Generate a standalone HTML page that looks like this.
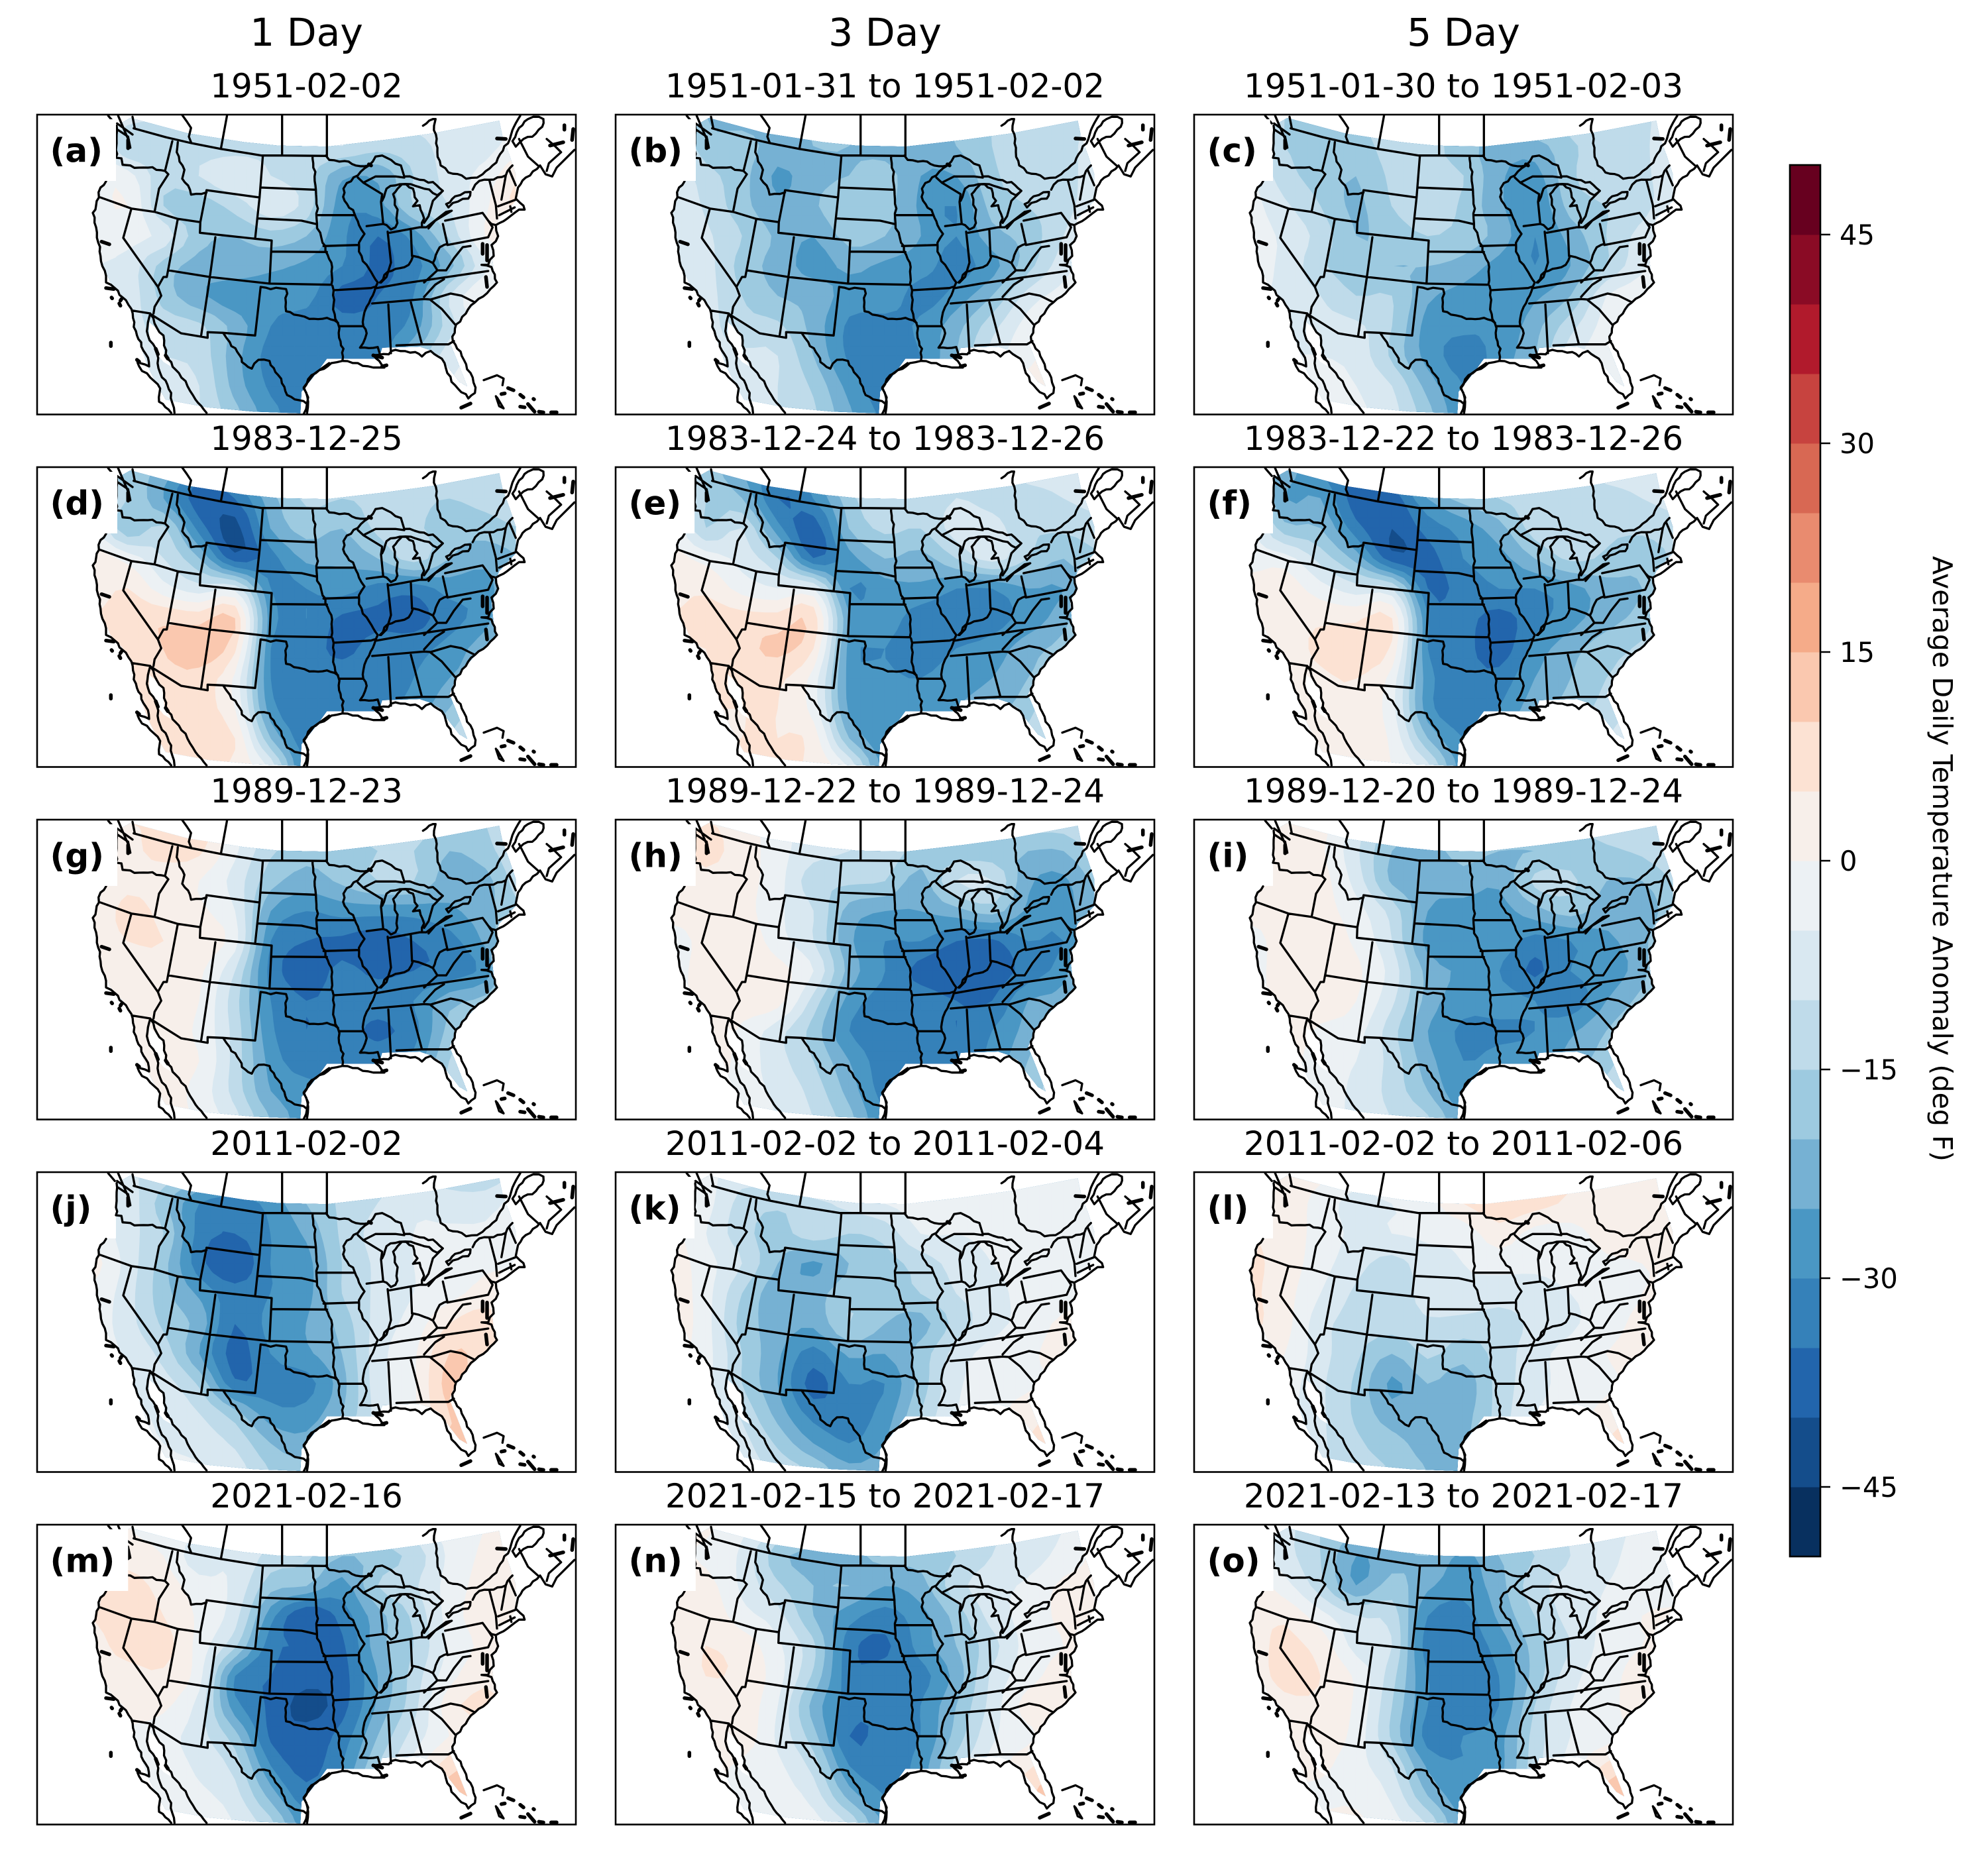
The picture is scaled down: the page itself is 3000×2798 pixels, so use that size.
<!DOCTYPE html>
<html lang="en">
<head>
<meta charset="utf-8">
<title>Average Daily Temperature Anomaly</title>
<style>
html,body{margin:0;padding:0;background:#fff;}
svg{display:block;}
text{font-family:"DejaVu Sans","Liberation Sans",sans-serif;fill:#000;}
</style>
</head>
<body>
<svg id="fig" xmlns="http://www.w3.org/2000/svg" width="3000" height="2798" viewBox="0 0 3000 2798">
<rect width="3000" height="2798" fill="#fff"></rect>
</svg>
<script>
// ---------- chart data ----------
const columnTitles = ["1 Day", "3 Day", "5 Day"];
const panelLetters = ["a","b","c","d","e","f","g","h","i","j","k","l","m","n","o"];
const panelDates = [
"1951-02-02","1951-01-31 to 1951-02-02","1951-01-30 to 1951-02-03",
"1983-12-25","1983-12-24 to 1983-12-26","1983-12-22 to 1983-12-26",
"1989-12-23","1989-12-22 to 1989-12-24","1989-12-20 to 1989-12-24",
"2011-02-02","2011-02-02 to 2011-02-04","2011-02-02 to 2011-02-06",
"2021-02-16","2021-02-15 to 2021-02-17","2021-02-13 to 2021-02-17"];
const levels = [-50,-45,-40,-35,-30,-25,-20,-15,-10,-5,0,5,10,15,20,25,30,35,40,45,50];
const bandColors = ["#08305f","#144d8b","#2265ac","#3581b9","#4a97c4","#76b1d3","#9dcae0","#bfdbea","#d9e8f1","#ecf1f4","#f7efea","#fce2d3","#fac8af","#f5ab89","#e98b6f","#d86853","#c7433f","#b11a2c","#8a0b25","#67001f"];
const colorbarTicks = [-45,-30,-15,0,15,30,45];
const colorbarTickLabels = ["−45","−30","−15","0","15","30","45"];

const fieldA = [
[-5,-8,-10,-10,-10,-10,-10,-10,-10,-8,-7,-7,-5],
[-3,-14,-12,-12,-12,-11,-11,-10,-13,-12,-8,-7,-2],
[0,-3,-13,-10,-6,-10,-13,-24,-24,-15,-8,-3,5],
[-3,0,-15,-18,-13,-7,-12,-28,-27,-15,-10,-1,7],
[-3,-3,-7,-18,-20,-17,-20,-29,-35,-28,-14,0,2],
[-5,-7,-17,-22,-22,-24,-26,-30,-36,-32,-22,-6,0],
[-5,-7,-17,-24,-28,-28,-28,-37,-35,-30,-10,0,0],
[-5,-8,-12,-14,-22,-30,-33,-33,-33,-28,-12,-3,0],
[-5,-8,-10,-12,-23,-32,-33,-33,-32,-20,-7,-5,0],
[-5,-5,-7,-10,-22,-31,-33,-33,-30,-15,-5,-3,0],
[-5,-5,-7,-10,-18,-28,-33,-33,-30,-10,-5,-3,0]];
const fieldB = [
[-10,-20,-22,-22,-20,-20,-20,-20,-20,-15,-13,-13,-8],
[-8,-18,-18,-22,-20,-20,-22,-23,-20,-15,-13,-12,-7],
[-5,-13,-18,-26,-22,-20,-18,-25,-25,-16,-13,-12,-7],
[-5,-11,-18,-24,-21,-15,-18,-26,-30,-18,-15,-12,-6],
[-5,-9,-15,-21,-25,-18,-20,-25,-30,-22,-18,-10,-3],
[-5,-8,-17,-22,-27,-24,-26,-28,-32,-27,-17,-7,-2],
[-5,-8,-15,-20,-22,-27,-27,-32,-28,-20,-8,-3,0],
[-5,-8,-13,-14,-22,-31,-32,-29,-22,-12,-3,1,1],
[-5,-8,-9,-10,-20,-31,-33,-30,-20,-8,-1,1,1],
[-5,-7,-7,-10,-16,-27,-33,-30,-18,-5,1,1,1],
[-5,-7,-7,-10,-14,-24,-31,-30,-15,-5,1,1,1]];
const fieldC = [
[-8,-15,-17,-15,-13,-13,-13,-14,-14,-12,-11,-11,-7],
[-6,-15,-15,-17,-13,-13,-18,-22,-22,-16,-12,-11,-6],
[-4,-13,-17,-20,-14,-14,-15,-24,-27,-16,-12,-11,-7],
[-3,-9,-15,-21,-15,-12,-16,-24,-29,-18,-15,-12,-5],
[-3,-6,-12,-20,-18,-15,-17,-22,-30,-23,-15,-8,-2],
[-4,-6,-14,-18,-20,-20,-22,-27,-30,-25,-15,-6,-2],
[-4,-6,-10,-15,-15,-24,-27,-30,-26,-20,-5,-2,0],
[-4,-5,-8,-9,-15,-27,-29,-29,-22,-12,-3,-1,0],
[-4,-5,-5,-7,-16,-27,-32,-28,-20,-7,-2,-1,0],
[-4,-3,-3,-5,-10,-22,-30,-28,-15,-5,-2,-1,0],
[-4,-3,-3,-4,-8,-18,-29,-28,-15,-4,-2,0,0]];
const fieldD = [
[-15,-17,-22,-32,-28,-14,-10,-14,-14,-15,-12,-12,-10],
[-10,-15,-25,-38,-35,-22,-14,-15,-14,-14,-15,-13,-10],
[-4,-19,-14,-32,-42,-25,-18,-20,-14,-14,-18,-18,-15],
[3,-2,-10,-20,-38,-32,-24,-24,-20,-13,-20,-23,-20],
[2,5,-3,-8,-7,-30,-30,-28,-32,-33,-28,-28,-15],
[5,8,9,8,10,-28,-30,-36,-36,-37,-32,-27,-15],
[5,7,10,13,6,-30,-33,-36,-33,-32,-28,-22,-15],
[5,7,8,8,-1,-30,-33,-33,-33,-30,-25,-20,-10],
[5,7,7,7,0,-28,-33,-32,-30,-28,-20,-10,-5],
[5,7,7,6,5,-20,-33,-30,-28,-20,-14,-10,-5],
[5,6,7,6,4,-6,-32,-30,-25,-15,-10,-10,-5]];
const fieldE = [
[-10,-17,-25,-33,-28,-10,-8,-12,-12,-12,-8,-8,-5],
[-5,-15,-20,-35,-30,-17,-10,-13,-10,-12,-12,-10,-8],
[0,-15,-10,-28,-38,-20,-14,-15,-8,-8,-14,-14,-12],
[2,-2,-7,-15,-35,-27,-20,-22,-15,-8,-15,-20,-15],
[3,4,-2,-5,-5,-30,-27,-26,-30,-30,-25,-25,-12],
[5,7,7,7,8,-25,-27,-33,-33,-32,-28,-22,-12],
[5,5,8,11,5,-27,-30,-33,-30,-28,-22,-18,-10],
[5,5,6,6,-2,-27,-29,-30,-27,-25,-20,-16,-8],
[5,5,5,5,-2,-26,-28,-28,-25,-22,-17,-8,-5],
[5,5,5,5,3,-20,-28,-26,-22,-18,-13,-8,-5],
[5,5,5,5,4,-5,-28,-27,-20,-15,-10,-8,-5]];
const fieldF = [
[-15,-22,-30,-36,-32,-12,-8,-12,-12,-12,-8,-8,-5],
[-8,-25,-25,-38,-38,-25,-18,-15,-13,-13,-12,-10,-8],
[-3,-18,-20,-33,-40,-33,-28,-22,-13,-12,-14,-14,-12],
[-3,-3,-12,-22,-38,-37,-30,-27,-20,-14,-16,-18,-14],
[3,3,-3,-8,-10,-35,-33,-30,-30,-27,-22,-20,-10],
[3,4,4,4,5,-30,-33,-37,-32,-27,-22,-18,-10],
[3,3,6,8,4,-30,-33,-38,-28,-22,-17,-14,-8],
[2,3,4,5,-2,-28,-33,-33,-25,-20,-15,-12,-5],
[2,2,3,3,-3,-28,-33,-30,-22,-18,-13,-8,-5],
[2,2,3,3,-1,-20,-30,-26,-18,-13,-10,-6,-3],
[2,2,3,2,0,-8,-28,-25,-15,-10,-8,-5,-3]];
const fieldG = [
[3,5,5,8,-3,-8,-10,-13,-13,-12,-15,-15,-10],
[2,4,6,6,-4,-14,-18,-17,-15,-15,-20,-17,-10],
[2,4,3,0,-7,-18,-22,-19,-15,-15,-23,-22,-12],
[2,6,4,1,-5,-25,-30,-28,-28,-28,-26,-22,-15],
[3,5,5,3,-3,-30,-35,-36,-38,-35,-32,-24,-12],
[2,3,4,1,-10,-32,-37,-34,-36,-35,-33,-28,-10],
[3,3,3,0,-13,-30,-35,-33,-33,-30,-22,-18,-8],
[3,3,2,-1,-12,-29,-35,-33,-36,-32,-18,-10,-5],
[3,2,2,0,-12,-27,-33,-33,-32,-28,-15,-10,-5],
[2,2,2,-2,-12,-25,-28,-30,-30,-20,-13,-8,-3],
[2,2,2,-1,-8,-20,-28,-30,-28,-15,-10,-8,-3]];
const fieldH = [
[3,5,3,-3,-7,-8,-10,-13,-13,-12,-12,-12,-8],
[3,6,3,-3,-8,-10,-12,-17,-18,-18,-20,-20,-12],
[3,4,2,-3,-13,-14,-15,-22,-10,-10,-24,-26,-18],
[2,3,2,-4,-10,-22,-25,-25,-22,-18,-26,-27,-20],
[-3,2,4,-3,-10,-24,-30,-30,-35,-36,-30,-30,-15],
[-3,3,5,2,-5,-22,-30,-37,-40,-38,-33,-27,-12],
[-3,3,3,2,-12,-27,-32,-32,-35,-35,-25,-22,-10],
[-3,3,-1,-8,-17,-30,-33,-33,-35,-30,-23,-15,-8],
[-3,3,-2,-8,-15,-25,-33,-33,-32,-28,-20,-12,-8],
[-3,3,-3,-6,-12,-22,-32,-30,-28,-20,-18,-10,-5],
[-3,3,-3,-5,-10,-18,-30,-30,-25,-18,-15,-10,-5]];
const fieldI = [
[3,3,2,-7,-17,-15,-13,-14,-14,-14,-12,-12,-8],
[3,3,1,-9,-20,-22,-18,-20,-20,-18,-16,-14,-10],
[2,4,2,-7,-21,-23,-22,-24,-14,-14,-20,-20,-14],
[2,3,2,-3,-12,-25,-27,-27,-22,-18,-23,-24,-15],
[-3,3,3,-1,-10,-27,-28,-27,-32,-30,-26,-22,-10],
[-3,3,3,1,-7,-22,-26,-30,-36,-30,-28,-22,-10],
[-3,3,3,0,-9,-22,-28,-28,-30,-33,-25,-18,-8],
[-3,3,-1,-3,-13,-25,-31,-31,-30,-26,-20,-13,-5],
[-3,2,-3,-5,-12,-23,-30,-28,-27,-23,-17,-10,-5],
[-3,2,-3,-6,-12,-20,-29,-24,-22,-18,-13,-7,-3],
[-3,2,-3,-6,-10,-14,-24,-20,-18,-15,-10,-5,-3]];
const fieldJ = [
[-3,-9,-12,-18,-20,-20,-16,-14,-12,-12,-12,-14,-8],
[-3,-7,-18,-30,-33,-28,-20,-14,-10,-6,-8,-7,-3],
[-1,-8,-15,-32,-35,-30,-24,-14,-8,-5,-4,-4,-2],
[2,-7,-18,-33,-40,-30,-27,-15,-9,-5,-4,-1,0],
[-1,-8,-18,-26,-33,-30,-27,-15,-9,-5,-2,2,0],
[-2,-8,-16,-22,-35,-28,-25,-18,-8,-3,5,8,3],
[-2,-6,-12,-25,-37,-30,-26,-20,-7,-1,10,8,2],
[-2,-5,-8,-16,-34,-32,-32,-22,-7,-1,12,5,1],
[-2,-4,-6,-10,-18,-28,-28,-20,-8,-1,10,7,1],
[-2,-4,-5,-7,-11,-20,-23,-15,-7,-1,10,8,1],
[-2,-4,-4,-4,-7,-15,-18,-15,-7,-1,8,6,1]];
const fieldK = [
[1,-3,-8,-5,1,2,3,3,3,2,-1,-5,-3],
[2,-3,-12,-14,-12,-8,-5,-2,-3,-2,-2,-3,-2],
[2,-5,-13,-17,-12,-15,-13,-5,-5,-4,-4,-4,-1],
[3,-3,-10,-20,-26,-20,-17,-13,-8,-5,-3,-2,0],
[3,-3,-15,-23,-22,-17,-17,-15,-10,-7,-3,-2,0],
[3,-3,-17,-22,-24,-15,-20,-22,-13,-7,-3,1,1],
[2,-3,-15,-24,-32,-24,-25,-18,-8,-3,-1,2,1],
[2,-3,-15,-25,-37,-30,-30,-18,-6,-3,-1,1,1],
[2,-3,-11,-22,-32,-32,-28,-15,-5,-2,3,5,1],
[1,-3,-8,-16,-25,-30,-25,-12,-3,-2,5,6,1],
[1,-3,-7,-11,-15,-23,-20,-10,-3,-2,3,3,1]];
const fieldL = [
[3,2,1,-2,2,5,8,9,8,5,3,1,0],
[3,3,-2,-7,-5,-2,5,8,7,4,3,2,0],
[5,3,-2,-6,-5,-4,-3,3,-2,-2,2,1,0],
[6,3,-3,-8,-12,-7,-5,-3,-4,-3,-1,0,0],
[6,2,-5,-11,-15,-7,-6,-8,-7,-5,-3,0,0],
[6,2,-8,-12,-13,-11,-12,-12,-9,-6,-2,1,0],
[3,0,-8,-14,-20,-14,-18,-13,-7,-3,0,1,0],
[2,-2,-9,-16,-26,-20,-23,-13,-7,-3,-1,2,0],
[2,-3,-9,-16,-23,-22,-22,-13,-5,-3,2,5,0],
[1,-3,-9,-14,-18,-22,-21,-12,-3,-1,5,6,0],
[1,-3,-9,-13,-15,-20,-20,-8,-3,-1,3,3,0]];
const fieldM = [
[3,0,-3,-3,-7,-8,-8,-10,-10,-7,-3,0,2],
[4,3,0,-8,-5,-12,-14,-20,-18,-13,-4,1,3],
[6,7,3,-3,-6,-18,-20,-27,-15,-11,-3,2,3],
[5,8,5,-1,-8,-28,-40,-33,-22,-14,-3,3,2],
[3,7,7,-2,-14,-33,-35,-36,-22,-15,-4,1,1],
[3,3,4,-3,-30,-35,-38,-37,-25,-13,-2,4,3],
[2,2,1,-7,-28,-36,-42,-37,-24,-12,3,6,2],
[2,-1,-3,-8,-18,-36,-38,-33,-20,-8,0,4,1],
[2,-3,-3,-6,-12,-30,-37,-30,-15,-3,8,10,1],
[2,-3,-3,-4,-8,-22,-33,-26,-10,2,12,10,1],
[2,-2,-2,-2,-5,-13,-28,-25,-10,0,8,5,1]];
const fieldN = [
[1,1,-4,-10,-14,-14,-14,-13,-13,-10,-9,-5,1],
[1,-1,-6,-18,-22,-22,-18,-18,-15,-10,-8,-3,1],
[3,2,-6,-14,-20,-20,-25,-22,-12,-7,-4,1,1],
[3,4,-3,-8,-20,-28,-32,-27,-18,-8,-3,1,1],
[3,5,3,-4,-14,-33,-36,-28,-20,-12,-3,0,1],
[3,5,4,-3,-16,-33,-33,-32,-23,-9,-2,2,2],
[3,3,3,-5,-22,-32,-35,-30,-20,-8,2,2,1],
[3,3,3,-6,-18,-35,-33,-30,-18,-6,-1,2,1],
[3,2,-1,-4,-12,-30,-32,-28,-13,-3,4,8,1],
[3,1,-2,-3,-7,-22,-30,-28,-12,-2,9,12,1],
[3,1,-2,-2,-3,-10,-26,-25,-10,-2,6,7,1]];
const fieldO = [
[-5,-8,-15,-18,-20,-18,-15,-14,-12,-9,-8,-3,0],
[-3,-8,-15,-25,-22,-20,-26,-20,-15,-10,-7,-2,0],
[3,-3,-13,-25,-18,-24,-28,-22,-12,-8,-5,-2,0],
[3,4,-3,-10,-12,-30,-32,-24,-15,-8,-4,0,0],
[3,6,3,-7,-10,-33,-33,-28,-18,-10,-3,0,0],
[3,6,5,-1,-13,-30,-32,-30,-18,-7,-2,2,2],
[2,4,4,-1,-15,-30,-34,-30,-15,-5,-2,3,1],
[2,3,3,-2,-16,-32,-30,-27,-13,-5,-2,2,0],
[2,2,1,-3,-10,-26,-30,-27,-12,-3,6,9,0],
[2,-1,-1,-1,-6,-20,-28,-25,-10,-3,12,12,0],
[2,-1,1,1,-3,-10,-26,-24,-8,-2,7,7,0]];
const panelFields = [fieldA,fieldB,fieldC,fieldD,fieldE,fieldF,fieldG,fieldH,fieldI,fieldJ,fieldK,fieldL,fieldM,fieldN,fieldO];

// ---------- basemap outlines (traced geography, not chart values) ----------
const westLines = [
[455,72,600,112,720,140,850,165,1035,195,1127,195,1330,197],
[715,135,705,110,715,70,695,40,675,12],
[850,165,878,12],[1127,195,1127,12],[1330,197,1330,12],
[375,205,400,208,405,237,440,240,480,250,520,250,597,265,612,280],
[630,130,597,265],[612,280,570,345,550,450],
[305,385,445,435,550,450,655,482,757,497],
[445,435,408,568,565,790],
[565,790,590,745,605,745,655,482],
[565,790,580,830,550,880,545,910],
[450,897,530,910],
[530,912,670,1000,760,1015,790,1020,790,995,860,998,1005,1010],
[612,715,800,745,1070,775,1345,780],
[825,565,800,745,760,1015],
[757,497,755,545,1005,572,1080,580,1070,775],
[785,352,757,497],[785,352,1025,385],
[655,135,650,180,685,260,675,300,710,350,715,372,785,362],
[1040,195,1025,385,1005,572],
[1030,340,1275,350],[1020,480,1215,490,1280,505],[1080,630,1330,632],
[1265,197,1265,210,1280,350,1285,500,1310,590,1350,680,1350,780],
[1005,1010,1030,790],
[1030,790,1145,800,1145,900,1180,915,1250,935,1330,930,1380,952],
[860,998,890,1040,935,1100,945,1130,990,1160,1020,1120,1070,1125,1110,1190,1150,1280,1240,1320,1225,1365],
[1240,1320,1245,1290,1225,1245,1270,1185,1340,1135],
[378,60,378,100,378,140,375,170,375,205,378,205],
[330,312,305,340,298,385,270,455,285,520,295,590,305,650,330,740,330,770,370,795,420,850,445,890,470,1010,490,1060,520,1110,525,1150,470,1120,480,1150,530,1200,575,1250,570,1310,625,1360],
[530,912,520,950,520,1010,560,1090,575,1180,625,1270,640,1360],
[530,912,560,975,590,1010,600,1100,660,1180,710,1260,735,1300,785,1360],
[340,15,370,50],[385,15,430,120],[450,20,460,70],[380,50,450,100],[385,80,430,110,440,160]
];
const eastLines = [
[215,195,230,215,300,220,350,240,410,240,440,200,470,195,510,215,555,240,570,290,640,305,700,315,745,355,720,375,660,345,600,325,550,325,490,345,470,400],
[410,240,360,285,310,320,295,345,300,400,345,460,365,510,390,550,365,590,365,630,400,690,430,740,450,770,435,810,400,880,385,930,385,968,400,1000,370,1065,450,1062,460,1095],
[360,295,385,318,440,290,530,290,570,295],
[385,318,470,370,465,405,475,505,400,515],
[475,505,490,510,510,530,530,520,540,440,520,370,540,345,560,325],
[560,325,610,345,630,400,610,425,640,420,660,480,650,520],
[175,465,345,465],[205,605,365,600],
[245,785,250,870,258,935,270,955,275,1020,295,1070,290,1125],
[250,805,420,795,435,790],
[275,968,385,968],
[445,795,560,775,720,752,950,718],
[425,865,660,845,690,847],
[498,870,510,1090],
[600,860,650,1050,770,1050,795,1035],
[535,1055,650,1050],
[690,850,740,890,800,960],
[690,847,780,820,830,830,890,860],
[660,835,710,780,750,755],
[495,540,510,680,490,745,465,770],
[600,535,605,650],
[505,545,640,520,670,520],
[460,770,495,722,550,705,590,690,610,650,660,665,700,682,720,630,750,600,765,595],
[700,682,720,715,660,770],
[720,715,760,715,795,660,835,610,870,605],
[765,600,950,565],[745,505,765,595],
[755,490,925,455,950,490,970,520,950,565],
[670,520,760,450,785,445,710,490,680,525],
[770,430,760,415,800,380,870,360,860,390,790,410,770,430],
[745,355,700,400,680,470,660,500],
[655,60,700,30,712,30,705,60,720,180,735,240,770,272,830,285,850,300,900,295,925,280,970,240,1040,140,1060,80,1095,15],
[880,350,910,310,955,305,1030,285,1050,250,1060,240],
[955,305,985,420,990,480],[1030,285,1010,395],[1045,260,1075,330],
[995,425,1075,395],[1000,465,1070,430],[1050,425,1055,450],
[985,510,1050,470,1090,440,1115,440,1095,410,1075,390,1085,340,1120,295,1185,240],
[950,490,985,510,995,560,965,600,975,650,950,690,920,690,965,700,990,770,960,800,890,860,805,960,790,1035,840,1120,880,1200,890,1270,860,1295,800,1235,765,1180,740,1115,690,1080,650,1105,620,1085,530,1075,500,1095,430,1100,480,1155,430,1155,360,1135,290,1125,240,1135,150,1190,115,1250,135,1310,130,1362],
[1200,30,1180,20,1130,30,1090,70,1060,130,1075,155,1110,120,1150,110,1195,65,1200,30],
[1090,120,1130,200,1175,240],
[1185,240,1210,280,1240,290,1260,250,1340,170],
[1215,265,1225,230,1280,180,1250,150,1215,120],
[930,1212,990,1190,1020,1205,1015,1235],
[985,1285,1000,1330,1020,1340,990,1290]
];
const thickWest = [[330,795,365,800],[355,838,358,842],[400,845,395,852],[390,865,395,875],[352,1042,352,1058],[430,125,430,162],[310,585,345,597],[470,1120,480,1128],[555,1070,565,1095],[600,1100,610,1115]];
const thickEast = [[925,595,925,640],[945,600,945,670],[940,745,945,790],[430,1100,470,1110],[470,1150,490,1145],[1230,150,1290,135],[1335,75,1330,125],[1295,58,1295,78],[1040,1248,1065,1258],[1095,1278,1110,1290],[1155,1297,1158,1299],[1095,1332,1115,1335],[1130,1320,1160,1355],[1180,1355,1200,1358],[1235,1358,1260,1358],[828,1337,870,1318],[1010,1275,1025,1272],[990,118,1030,120],[410,235,420,240]];
const maskWest = [440,25,700,95,960,135,1110,150];
const maskEast = [220,155,480,125,700,95,1000,38,1015,110,1045,190,1075,280,1075,335,1075,400,1000,480,985,520,990,570,965,620,975,720,990,770,950,810,880,875,805,960,775,1040,800,1100,855,1240,820,1220,765,1150,730,1100,685,1075,640,1060,470,1065,455,1115,220,1115,180,1170,105,1265,100,1362];
const maskWest2 = [1210,1362,1000,1355,790,1335,600,1300,565,1240,520,1150,470,1010,445,890,420,845,350,770,320,700,300,640,285,520,272,455,300,385,310,330,330,310,375,310,375,205,378,60];
const gulfHole = [525,950,555,975,585,1010,595,1100,625,1150,590,1130,560,1090,525,1010];

// ---------- scales ----------
const SVGNS = "http://www.w3.org/2000/svg";
const fig = document.getElementById("fig");
const PANEL_W = 813, PANEL_H = 452.5;
function panelLeft(col){ return 56 + 873*col; }
function panelTop(row){ return 173 + 532*row; }
function mapX(g){ return (g-18)/3; }
function mapY(g){ return (g-10)/3; }
function gridColX(i){ return mapX(265 + 162*i); }
function gridRowY(j){ return mapY(15 + 136*j); }
function cbarY(v){ return 2349 - (v+50)/100*2100; }
function make(tag, attrs, parent){
  const e = document.createElementNS(SVGNS, tag);
  for (const k in attrs) e.setAttribute(k, attrs[k]);
  (parent||fig).appendChild(e);
  return e;
}
function pts(arr, off){
  let out = [];
  for (let i=0;i<arr.length;i+=2) out.push(mapX(arr[i]+off).toFixed(1)+" "+mapY(arr[i+1]).toFixed(1));
  return out;
}
function lineD(list, off){
  let d = "";
  for (const l of list) d += "M"+pts(l,off).join("L");
  return d;
}
// rough, river-and-coast look for the long traced outlines
function roughD(list, off){
  let d = "";
  list.forEach(function(l, idx){
    if (l.length < 12 || (off===0 && (idx===0 || idx===13))) { d += "M"+pts(l,off).join("L"); return; }
    const out = [];
    let n = idx*7+3;
    for (let i=0;i<l.length-2;i+=2){
      const x0=mapX(l[i]+off),y0=mapY(l[i+1]),x1=mapX(l[i+2]+off),y1=mapY(l[i+3]);
      const len=Math.hypot(x1-x0,y1-y0), steps=Math.max(1,Math.round(len/7));
      const nx=(y1-y0)/(len||1), ny=-(x1-x0)/(len||1);
      for (let s=0;s<steps;s++){
        const t=s/steps; n++;
        const a=s===0?0:(Math.sin(n*2.399)+Math.sin(n*0.83))*1.1;
        out.push((x0+(x1-x0)*t+nx*a).toFixed(1)+" "+(y0+(y1-y0)*t+ny*a).toFixed(1));
      }
    }
    out.push(mapX(l[l.length-2]+off).toFixed(1)+" "+mapY(l[l.length-1]).toFixed(1));
    d += "M"+out.join("L");
  });
  return d;
}
const basemapD = roughD(westLines,0)+roughD(eastLines,1110);
const thickD = lineD(thickWest,0)+lineD(thickEast,1110);
const maskPoints = pts(maskWest,0).concat(pts(maskEast,1110),pts(maskWest2,0)).join(" ");

const defs = make("defs",{});
const maskClip = make("clipPath",{id:"field-mask"},defs);
make("polygon",{points:maskPoints},maskClip);
const frameClip = make("clipPath",{id:"panel-clip"},defs);
make("rect",{x:0,y:0,width:PANEL_W,height:PANEL_H},frameClip);

// ---------- contour helpers ----------
const UP = 3;
function cr(a,b,c,d,t){
  return 0.5*((2*b)+(-a+c)*t+(2*a-5*b+4*c-d)*t*t+(-a+3*b-3*c+d)*t*t*t);
}
function refine(grid){
  const R = grid.length, C = grid[0].length, out = [];
  const at = (r,c)=>grid[Math.max(0,Math.min(R-1,r))][Math.max(0,Math.min(C-1,c))];
  for (let j=0;j<=(R-1)*UP;j++){
    const row = [], r0 = Math.floor(j/UP), tr = j/UP-r0;
    for (let i=0;i<=(C-1)*UP;i++){
      const c0 = Math.floor(i/UP), tc = i/UP-c0, v = [];
      for (let q=-1;q<=2;q++) v.push(cr(at(r0+q,c0-1),at(r0+q,c0),at(r0+q,c0+1),at(r0+q,c0+2),tc));
      row.push(cr(v[0],v[1],v[2],v[3],tr));
    }
    out.push(row);
  }
  return out;
}
function clipCell(xs, ys, vs, L){
  const out = [];
  for (let k=0;k<4;k++){
    const n=(k+1)%4, a=vs[k], b=vs[n];
    if (a>=L) out.push([xs[k],ys[k]]);
    if ((a>=L)!==(b>=L)){
      const t=(L-a)/(b-a);
      out.push([xs[k]+t*(xs[n]-xs[k]), ys[k]+t*(ys[n]-ys[k])]);
    }
  }
  return out;
}
function bandPath(fine, L){
  let d = "";
  for (let j=0;j<fine.length-1;j++){
    for (let i=0;i<fine[0].length-1;i++){
      const x0=gridColX(i/UP),x1=gridColX((i+1)/UP),y0=gridRowY(j/UP),y1=gridRowY((j+1)/UP);
      const poly=clipCell([x0,x1,x1,x0],[y0,y0,y1,y1],[fine[j][i],fine[j][i+1],fine[j+1][i+1],fine[j+1][i]],L);
      if (poly.length<3) continue;
      d += "M"+poly.map(p=>p[0].toFixed(1)+" "+p[1].toFixed(1)).join("L")+"Z";
    }
  }
  return d;
}

// ---------- column titles ----------
columnTitles.forEach(function(t,c){
  const e = make("text",{x:panelLeft(c)+PANEL_W/2,y:69,"text-anchor":"middle","font-size":58.33});
  e.textContent = t;
  
  
});

// ---------- panels ----------
panelFields.forEach(function(field,idx){
  const col = idx%3, row = Math.floor(idx/3);
  const x = panelLeft(col), y = panelTop(row);
  const title = make("text",{x:x+PANEL_W/2,y:y-26,"text-anchor":"middle","font-size":50});
  title.textContent = panelDates[idx];
  
  

  const g = make("g",{transform:"translate("+x+" "+y.toFixed(1)+")"});
  
  

  const fieldG_ = make("g",{"clip-path":"url(#field-mask)"},g);
  
  
  const fine = refine(field);
  for (let k=0;k<bandColors.length;k++){
    const d = bandPath(fine, k===0?-1000:levels[k]);
    if (!d) continue;
    const p = make("path",{d:d,fill:bandColors[k],stroke:bandColors[k],"stroke-width":0.8},fieldG_);
    
    
  }

  const mapG = make("g",{"clip-path":"url(#panel-clip)"},g);
  
  
  make("polygon",{points:pts(gulfHole,0).join(" "),fill:"#fff"},mapG);
  make("path",{d:basemapD,fill:"none",stroke:"#000","stroke-width":3.3,"stroke-linejoin":"round","stroke-linecap":"round"},mapG);
  make("path",{d:thickD,fill:"none",stroke:"#000","stroke-width":5.5,"stroke-linecap":"round"},mapG);

  const box = make("rect",{x:0,y:7,width:120,height:93,fill:"#fff"},g);
  
  
  const lab = make("text",{x:19.5,y:71.6,"font-size":50,"font-weight":"bold"},g);
  lab.textContent = "("+panelLetters[idx]+")";
  
  
  box.setAttribute("width", (19.5+lab.getComputedTextLength()+20).toFixed(1));

  const frame = make("rect",{x:0,y:0,width:PANEL_W,height:PANEL_H,fill:"none",stroke:"#000","stroke-width":2.6},g);
  
  
});

// ---------- colorbar ----------
const cbar = make("g",{});


bandColors.forEach(function(c,k){
  const top = cbarY(levels[k+1]), bot = cbarY(levels[k]);
  const r = make("rect",{x:2701,y:top.toFixed(1),width:46,height:(bot-top+0.5).toFixed(1),fill:c},cbar);
  
  
});
const cbarFrame = make("rect",{x:2701,y:cbarY(50),width:46,height:cbarY(-50)-cbarY(50),fill:"none",stroke:"#000","stroke-width":2.6},cbar);


colorbarTicks.forEach(function(v,k){
  const ty = cbarY(v);
  const t = make("line",{x1:2747,x2:2762,y1:ty,y2:ty,stroke:"#000","stroke-width":2.5},cbar);
  
  
  const l = make("text",{x:2776,y:ty+15,"font-size":41.67},cbar);
  l.textContent = colorbarTickLabels[k];
  
  
});
const cbarTitle = make("text",{transform:"translate(2917 1296) rotate(90)","text-anchor":"middle","font-size":41.2},cbar);
cbarTitle.textContent = "Average Daily Temperature Anomaly (deg F)";


</script>
</body>
</html>
